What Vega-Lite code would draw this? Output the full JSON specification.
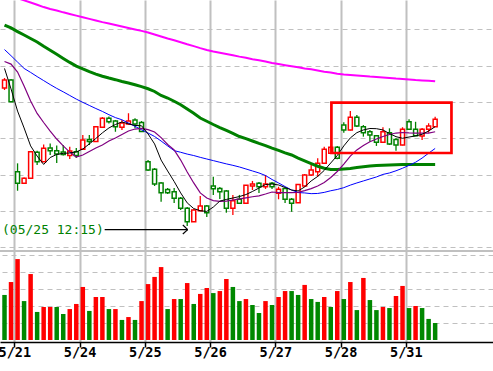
{
"$schema": "https://vega.github.io/schema/vega-lite/v6.json",
"width": 493, "height": 342,
"autosize": {"type": "none"},
"padding": {"left": 0, "top": 0, "right": 0, "bottom": 29},
"background": "white",
"config": {"view": {"stroke": null}},
"datasets": {
"bars": [
{"i":0,"o":657.7,"h":663.2,"l":656.6,"c":662.1,"v":2650,"vd":"down","m5":668.5,"m10":672.3,"m20":678.9,"m60":692.4,"m120":709.6},
{"i":1,"o":662.1,"h":662.7,"l":650.0,"c":650.2,"v":3410,"vd":"up","m5":657.2,"m10":670.9,"m20":675.5,"m60":690.8,"m120":708.4},
{"i":2,"o":611.6,"h":616.2,"l":601.1,"c":605.2,"v":4760,"vd":"up","m5":645.0,"m10":666.5,"m20":672.0,"m60":688.8,"m120":707.2},
{"i":3,"o":605.2,"h":608.4,"l":604.8,"c":608.0,"v":2290,"vd":"down","m5":635.7,"m10":658.8,"m20":668.5,"m60":686.9,"m120":706.0},
{"i":4,"o":608.0,"h":623.0,"l":607.6,"c":622.6,"v":3880,"vd":"up","m5":625.8,"m10":650.5,"m20":666.3,"m60":685.0,"m120":704.8},
{"i":5,"o":622.3,"h":623.2,"l":615.3,"c":617.1,"v":1650,"vd":"down","m5":620.2,"m10":643.7,"m20":664.0,"m60":683.1,"m120":703.6},
{"i":6,"o":617.1,"h":626.6,"l":616.9,"c":624.5,"v":1940,"vd":"up","m5":615.6,"m10":638.7,"m20":661.8,"m60":680.7,"m120":702.3},
{"i":7,"o":624.7,"h":627.1,"l":620.8,"c":623.2,"v":1940,"vd":"up","m5":619.4,"m10":634.0,"m20":659.6,"m60":678.5,"m120":701.2},
{"i":8,"o":623.2,"h":626.0,"l":616.4,"c":621.3,"v":1940,"vd":"down","m5":621.1,"m10":629.6,"m20":657.5,"m60":676.3,"m120":700.4},
{"i":9,"o":622.4,"h":626.3,"l":620.5,"c":621.1,"v":1530,"vd":"down","m5":621.7,"m10":625.8,"m20":655.6,"m60":674.0,"m120":699.4},
{"i":10,"o":620.5,"h":625.4,"l":618.6,"c":623.0,"v":1820,"vd":"up","m5":621.9,"m10":622.4,"m20":653.6,"m60":671.8,"m120":698.5},
{"i":11,"o":622.6,"h":624.7,"l":619.1,"c":620.5,"v":2120,"vd":"up","m5":622.5,"m10":619.7,"m20":651.6,"m60":669.8,"m120":697.6},
{"i":12,"o":623.9,"h":631.8,"l":623.6,"c":629.1,"v":3120,"vd":"up","m5":624.1,"m10":620.8,"m20":649.8,"m60":668.2,"m120":696.7},
{"i":13,"o":629.3,"h":631.8,"l":626.3,"c":628.2,"v":1710,"vd":"down","m5":626.9,"m10":622.7,"m20":648.1,"m60":666.7,"m120":695.8},
{"i":14,"o":628.2,"h":636.8,"l":628.0,"c":636.4,"v":2530,"vd":"up","m5":629.9,"m10":624.7,"m20":646.4,"m60":665.4,"m120":694.9},
{"i":15,"o":636.1,"h":641.7,"l":635.7,"c":641.0,"v":2530,"vd":"up","m5":633.0,"m10":626.3,"m20":644.8,"m60":664.2,"m120":694.0},
{"i":16,"o":641.0,"h":642.0,"l":638.2,"c":639.1,"v":1820,"vd":"down","m5":635.7,"m10":628.5,"m20":643.0,"m60":663.2,"m120":693.2},
{"i":17,"o":639.5,"h":640.1,"l":633.6,"c":636.4,"v":1820,"vd":"up","m5":637.6,"m10":630.2,"m20":641.4,"m60":662.3,"m120":692.4},
{"i":18,"o":636.1,"h":640.1,"l":634.6,"c":638.4,"v":1180,"vd":"down","m5":639.0,"m10":632.1,"m20":640.2,"m60":661.3,"m120":691.6},
{"i":19,"o":637.9,"h":643.8,"l":637.6,"c":639.5,"v":1350,"vd":"up","m5":637.9,"m10":634.0,"m20":638.4,"m60":660.5,"m120":690.8},
{"i":20,"o":640.1,"h":641.0,"l":635.5,"c":637.9,"v":1180,"vd":"down","m5":637.1,"m10":635.1,"m20":636.6,"m60":659.5,"m120":690.0},
{"i":21,"o":638.7,"h":639.5,"l":633.5,"c":633.7,"v":2290,"vd":"up","m5":636.9,"m10":635.5,"m20":634.7,"m60":658.5,"m120":689.2},
{"i":22,"o":617.1,"h":618.0,"l":612.0,"c":612.5,"v":3290,"vd":"up","m5":632.4,"m10":634.8,"m20":632.9,"m60":657.3,"m120":688.3},
{"i":23,"o":612.9,"h":613.6,"l":603.7,"c":604.8,"v":3710,"vd":"up","m5":626.9,"m10":633.5,"m20":631.0,"m60":655.8,"m120":687.2},
{"i":24,"o":605.4,"h":605.9,"l":595.1,"c":600.0,"v":4290,"vd":"up","m5":618.0,"m10":630.4,"m20":628.5,"m60":653.6,"m120":686.1},
{"i":25,"o":601.8,"h":602.6,"l":599.3,"c":600.0,"v":1820,"vd":"down","m5":612.0,"m10":626.6,"m20":625.8,"m60":652.2,"m120":685.0},
{"i":26,"o":600.6,"h":602.6,"l":594.3,"c":596.9,"v":2410,"vd":"up","m5":606.2,"m10":623.6,"m20":623.2,"m60":650.4,"m120":684.0},
{"i":27,"o":596.9,"h":597.6,"l":590.5,"c":591.4,"v":2410,"vd":"down","m5":599.9,"m10":618.0,"m20":622.3,"m60":648.5,"m120":682.9},
{"i":28,"o":591.4,"h":592.1,"l":581.7,"c":584.0,"v":3350,"vd":"up","m5":594.4,"m10":611.4,"m20":621.3,"m60":646.1,"m120":681.8},
{"i":29,"o":584.0,"h":591.0,"l":583.9,"c":590.5,"v":2120,"vd":"down","m5":591.3,"m10":605.4,"m20":620.5,"m60":643.8,"m120":680.8},
{"i":30,"o":590.1,"h":598.2,"l":589.9,"c":592.7,"v":2710,"vd":"up","m5":590.1,"m10":599.9,"m20":619.5,"m60":641.2,"m120":679.7},
{"i":31,"o":592.7,"h":593.2,"l":586.6,"c":589.0,"v":3060,"vd":"up","m5":589.7,"m10":597.1,"m20":618.6,"m60":639.4,"m120":678.7},
{"i":32,"o":603.7,"h":608.8,"l":598.8,"c":602.2,"v":2760,"vd":"down","m5":592.1,"m10":595.7,"m20":617.7,"m60":637.6,"m120":677.8},
{"i":33,"o":602.4,"h":603.2,"l":596.5,"c":600.6,"v":2880,"vd":"up","m5":595.4,"m10":595.2,"m20":616.8,"m60":635.9,"m120":677.1},
{"i":34,"o":601.0,"h":601.5,"l":589.0,"c":591.4,"v":3590,"vd":"up","m5":596.3,"m10":595.4,"m20":615.9,"m60":634.3,"m120":676.4},
{"i":35,"o":591.4,"h":598.8,"l":587.7,"c":595.6,"v":3120,"vd":"down","m5":597.1,"m10":596.0,"m20":615.1,"m60":632.7,"m120":675.7},
{"i":36,"o":596.4,"h":598.8,"l":593.8,"c":594.2,"v":2290,"vd":"down","m5":597.9,"m10":596.6,"m20":614.2,"m60":631.0,"m120":675.0},
{"i":37,"o":594.2,"h":604.3,"l":593.8,"c":604.1,"v":2410,"vd":"up","m5":599.0,"m10":597.2,"m20":613.1,"m60":629.8,"m120":674.4},
{"i":38,"o":603.7,"h":606.5,"l":601.5,"c":604.8,"v":2060,"vd":"down","m5":600.7,"m10":597.8,"m20":612.0,"m60":628.5,"m120":673.6},
{"i":39,"o":605.2,"h":605.9,"l":599.9,"c":603.3,"v":1590,"vd":"down","m5":602.6,"m10":598.3,"m20":610.9,"m60":627.2,"m120":673.0},
{"i":40,"o":603.3,"h":609.8,"l":602.1,"c":604.8,"v":2290,"vd":"up","m5":604.5,"m10":599.3,"m20":609.5,"m60":626.0,"m120":672.3},
{"i":41,"o":605.2,"h":605.9,"l":602.1,"c":603.3,"v":2060,"vd":"down","m5":604.8,"m10":600.4,"m20":607.3,"m60":624.6,"m120":671.5},
{"i":42,"o":599.7,"h":603.3,"l":596.4,"c":601.9,"v":2530,"vd":"up","m5":604.3,"m10":600.1,"m20":605.4,"m60":623.3,"m120":670.9},
{"i":43,"o":602.4,"h":602.6,"l":594.3,"c":596.4,"v":2880,"vd":"up","m5":602.9,"m10":600.1,"m20":603.4,"m60":622.0,"m120":670.3},
{"i":44,"o":596.4,"h":597.1,"l":589.5,"c":594.2,"v":2880,"vd":"down","m5":601.5,"m10":600.1,"m20":601.5,"m60":620.8,"m120":669.7},
{"i":45,"o":594.5,"h":604.8,"l":594.3,"c":604.6,"v":2650,"vd":"down","m5":601.0,"m10":600.2,"m20":600.1,"m60":619.1,"m120":669.1},
{"i":46,"o":603.7,"h":610.3,"l":603.2,"c":609.8,"v":3240,"vd":"up","m5":603.2,"m10":601.2,"m20":599.9,"m60":617.6,"m120":668.5},
{"i":47,"o":609.8,"h":615.3,"l":609.2,"c":612.5,"v":2410,"vd":"down","m5":606.5,"m10":602.3,"m20":599.5,"m60":616.1,"m120":668.0},
{"i":48,"o":611.6,"h":619.0,"l":608.8,"c":616.2,"v":2240,"vd":"down","m5":609.0,"m10":603.7,"m20":599.6,"m60":614.6,"m120":667.4},
{"i":49,"o":616.2,"h":625.4,"l":615.8,"c":623.9,"v":2530,"vd":"up","m5":612.3,"m10":605.6,"m20":600.2,"m60":613.5,"m120":666.7},
{"i":50,"o":621.7,"h":625.8,"l":621.3,"c":625.0,"v":1940,"vd":"down","m5":616.4,"m10":608.4,"m20":601.1,"m60":612.8,"m120":666.2},
{"i":51,"o":625.0,"h":625.8,"l":618.4,"c":619.0,"v":2880,"vd":"up","m5":620.5,"m10":611.7,"m20":601.8,"m60":612.8,"m120":665.6},
{"i":52,"o":637.3,"h":638.8,"l":633.1,"c":634.6,"v":2410,"vd":"down","m5":625.8,"m10":615.8,"m20":602.8,"m60":613.1,"m120":665.2},
{"i":53,"o":634.6,"h":645.0,"l":634.3,"c":641.6,"v":3410,"vd":"up","m5":630.2,"m10":620.2,"m20":604.2,"m60":613.4,"m120":664.9},
{"i":54,"o":641.6,"h":642.8,"l":636.2,"c":636.8,"v":1760,"vd":"down","m5":633.1,"m10":623.6,"m20":605.4,"m60":613.9,"m120":664.6},
{"i":55,"o":636.4,"h":637.3,"l":630.9,"c":633.1,"v":3650,"vd":"up","m5":634.6,"m10":626.0,"m20":606.5,"m60":614.3,"m120":664.3},
{"i":56,"o":633.6,"h":634.6,"l":628.1,"c":631.8,"v":2350,"vd":"down","m5":635.4,"m10":628.1,"m20":607.6,"m60":614.7,"m120":664.0},
{"i":57,"o":631.4,"h":631.8,"l":625.8,"c":627.8,"v":1760,"vd":"down","m5":635.3,"m10":629.6,"m20":608.7,"m60":615.0,"m120":663.8},
{"i":58,"o":627.8,"h":636.1,"l":627.4,"c":633.6,"v":1940,"vd":"up","m5":634.6,"m10":631.0,"m20":610.1,"m60":615.2,"m120":663.5},
{"i":59,"o":633.1,"h":635.5,"l":626.3,"c":626.9,"v":1880,"vd":"down","m5":632.6,"m10":632.1,"m20":610.9,"m60":615.3,"m120":663.2},
{"i":60,"o":629.4,"h":630.2,"l":623.2,"c":626.3,"v":2590,"vd":"up","m5":630.9,"m10":632.9,"m20":612.1,"m60":615.4,"m120":662.9},
{"i":61,"o":626.3,"h":636.1,"l":626.1,"c":635.0,"v":3180,"vd":"up","m5":630.0,"m10":633.2,"m20":613.5,"m60":615.5,"m120":662.7},
{"i":62,"o":639.1,"h":640.5,"l":634.6,"c":635.0,"v":1880,"vd":"down","m5":630.7,"m10":633.0,"m20":615.1,"m60":615.5,"m120":662.4},
{"i":63,"o":635.0,"h":639.1,"l":631.3,"c":631.4,"v":2000,"vd":"up","m5":631.3,"m10":632.9,"m20":616.8,"m60":615.5,"m120":662.1},
{"i":64,"o":631.3,"h":635.7,"l":629.1,"c":635.0,"v":1880,"vd":"down","m5":632.2,"m10":632.8,"m20":619.1,"m60":615.5,"m120":661.9},
{"i":65,"o":635.0,"h":638.3,"l":633.1,"c":636.8,"v":1240,"vd":"down","m5":634.0,"m10":632.9,"m20":621.8,"m60":615.5,"m120":661.7},
{"i":66,"o":636.4,"h":641.9,"l":636.2,"c":640.5,"v":1000,"vd":"down","m5":636.4,"m10":633.6,"m20":624.4,"m60":615.5,"m120":661.4}
],
"arrow": [
{"xa":15.35,"ya":579.7,"xb":28.08,"yb":579.7},
{"xa":27.33,"ya":582.2,"xb":28.08,"yb":579.7},
{"xa":27.33,"ya":577.3,"xb":28.08,"yb":579.7}
],
"box": [{"xa":50.1,"xb":68.5,"ya":649.6,"yb":621.9}],
"note": [{"x":0.075,"y":579.5,"t":"(05/25 12:15)"}]
},
"layer": [
{
"data": {"name": "bars"},
"mark": {"type": "bar", "size": 4.5},
"encoding": {
"x": {"field": "i", "type": "quantitative", "title": null, "scale": {"domain": [0.075, 74.1], "nice": false, "zero": false},
"axis": {"values": [1.5, 11.5, 21.5, 31.5, 41.5, 51.5, 61.5],
"labelExpr": "['5/21','5/24','5/25','5/26','5/27','5/28','5/31'][round((datum.value-1.5)/10)]",
"grid": true, "gridColor": "#c0c0c0", "gridWidth": 2,
"domainColor": "#000000", "domainWidth": 1.5, "tickColor": "#000000", "tickWidth": 1.5, "tickSize": 5,
"labelFont": "DejaVu Sans Mono", "labelFontSize": 13.5, "labelFontWeight": "bold", "labelColor": "#000000",
"labelBaseline": "middle", "labelPadding": 5, "labelFlush": false, "labelOverlap": false, "labelBound": false, "title": null}},
"y": {"field": "v", "type": "quantitative", "title": null, "scale": {"domain": [-117.6, 20000], "nice": false, "zero": false},
"axis": {"orient": "right", "values": [1000, 2000, 3000, 4000, 5000], "grid": true, "gridColor": "#c0c0c0", "gridDash": [5, 4],
"labels": false, "ticks": false, "domain": false, "title": null}},
"y2": {"datum": 0},
"color": {"condition": {"test": "datum.vd == 'up'", "value": "#ff0000"}, "value": "#008800"}
}
},
{
"layer": [
{
"data": {"values": [{}]},
"mark": {"type": "rule", "color": "#c0c0c0", "strokeWidth": 2},
"encoding": {
"y": {"datum": 567.9, "type": "quantitative", "title": null, "scale": {"domain": [517.76, 706.2], "nice": false, "zero": false},
"axis": {"orient": "left", "values": [570, 580, 590, 600, 610, 620, 630, 640, 650, 660, 670, 680, 690, 700], "grid": true, "gridColor": "#c0c0c0", "gridDash": [5, 4],
"labels": false, "ticks": false, "domain": false, "title": null}}
}
},
{
"data": {"name": "bars"},
"mark": {"type": "rule", "strokeWidth": 1.3, "clip": true},
"encoding": {
"x": {"field": "i", "type": "quantitative", "title": null, "scale": {"domain": [0.075, 74.1], "nice": false, "zero": false}},
"y": {"field": "l", "type": "quantitative", "title": null, "scale": {"domain": [517.76, 706.2], "nice": false, "zero": false}},
"y2": {"field": "h"},
"color": {"condition": {"test": "datum.c >= datum.o", "value": "#ff0000"}, "value": "#008000"}
}
},
{
"data": {"name": "bars"},
"mark": {"type": "bar", "size": 4, "fill": "#ffffff", "strokeWidth": 1.5, "clip": true},
"encoding": {
"x": {"field": "i", "type": "quantitative", "title": null, "scale": {"domain": [0.075, 74.1], "nice": false, "zero": false}},
"y": {"field": "o", "type": "quantitative", "title": null, "scale": {"domain": [517.76, 706.2], "nice": false, "zero": false}},
"y2": {"field": "c"},
"stroke": {"condition": {"test": "datum.c >= datum.o", "value": "#ff0000"}, "value": "#008000"}
}
},
{
"data": {"name": "bars"},
"mark": {"type": "line", "color": "#008000", "strokeWidth": 3, "clip": true},
"encoding": {
"x": {"field": "i", "type": "quantitative", "title": null, "scale": {"domain": [0.075, 74.1], "nice": false, "zero": false}},
"y": {"field": "m60", "type": "quantitative", "title": null, "scale": {"domain": [517.76, 706.2], "nice": false, "zero": false}}
}
},
{
"data": {"name": "bars"},
"mark": {"type": "line", "color": "#ff00ff", "strokeWidth": 2, "clip": true},
"encoding": {
"x": {"field": "i", "type": "quantitative", "title": null, "scale": {"domain": [0.075, 74.1], "nice": false, "zero": false}},
"y": {"field": "m120", "type": "quantitative", "title": null, "scale": {"domain": [517.76, 706.2], "nice": false, "zero": false}}
}
},
{
"data": {"name": "bars"},
"mark": {"type": "line", "color": "#0000ff", "strokeWidth": 1, "clip": true},
"encoding": {
"x": {"field": "i", "type": "quantitative", "title": null, "scale": {"domain": [0.075, 74.1], "nice": false, "zero": false}},
"y": {"field": "m20", "type": "quantitative", "title": null, "scale": {"domain": [517.76, 706.2], "nice": false, "zero": false}}
}
},
{
"data": {"name": "bars"},
"mark": {"type": "line", "color": "#800080", "strokeWidth": 1.2, "clip": true},
"encoding": {
"x": {"field": "i", "type": "quantitative", "title": null, "scale": {"domain": [0.075, 74.1], "nice": false, "zero": false}},
"y": {"field": "m10", "type": "quantitative", "title": null, "scale": {"domain": [517.76, 706.2], "nice": false, "zero": false}}
}
},
{
"data": {"name": "bars"},
"mark": {"type": "line", "color": "#000000", "strokeWidth": 1, "clip": true},
"encoding": {
"x": {"field": "i", "type": "quantitative", "title": null, "scale": {"domain": [0.075, 74.1], "nice": false, "zero": false}},
"y": {"field": "m5", "type": "quantitative", "title": null, "scale": {"domain": [517.76, 706.2], "nice": false, "zero": false}}
}
},
{
"data": {"name": "box"},
"mark": {"type": "rect", "fill": "#ffffff", "fillOpacity": 0, "stroke": "#ff0000", "strokeWidth": 2.7},
"encoding": {
"x": {"field": "xa", "type": "quantitative", "title": null, "scale": {"domain": [0.075, 74.1], "nice": false, "zero": false}},
"x2": {"field": "xb"},
"y": {"field": "ya", "type": "quantitative", "title": null, "scale": {"domain": [517.76, 706.2], "nice": false, "zero": false}},
"y2": {"field": "yb"}
}
},
{
"data": {"name": "note"},
"mark": {"type": "text", "align": "left", "baseline": "middle", "dx": -3, "font": "DejaVu Sans Mono", "fontSize": 13, "color": "#008000"},
"encoding": {
"x": {"field": "x", "type": "quantitative", "title": null, "scale": {"domain": [0.075, 74.1], "nice": false, "zero": false}},
"y": {"field": "y", "type": "quantitative", "title": null, "scale": {"domain": [517.76, 706.2], "nice": false, "zero": false}},
"text": {"field": "t"}
}
},
{
"data": {"name": "arrow"},
"mark": {"type": "rule", "color": "#000000", "strokeWidth": 1.2},
"encoding": {
"x": {"field": "xa", "type": "quantitative", "title": null, "scale": {"domain": [0.075, 74.1], "nice": false, "zero": false}},
"x2": {"field": "xb"},
"y": {"field": "ya", "type": "quantitative", "title": null, "scale": {"domain": [517.76, 706.2], "nice": false, "zero": false}},
"y2": {"field": "yb"}
}
}
]
}
],
"resolve": {"scale": {"y": "independent"}, "axis": {"y": "independent"}}
}
